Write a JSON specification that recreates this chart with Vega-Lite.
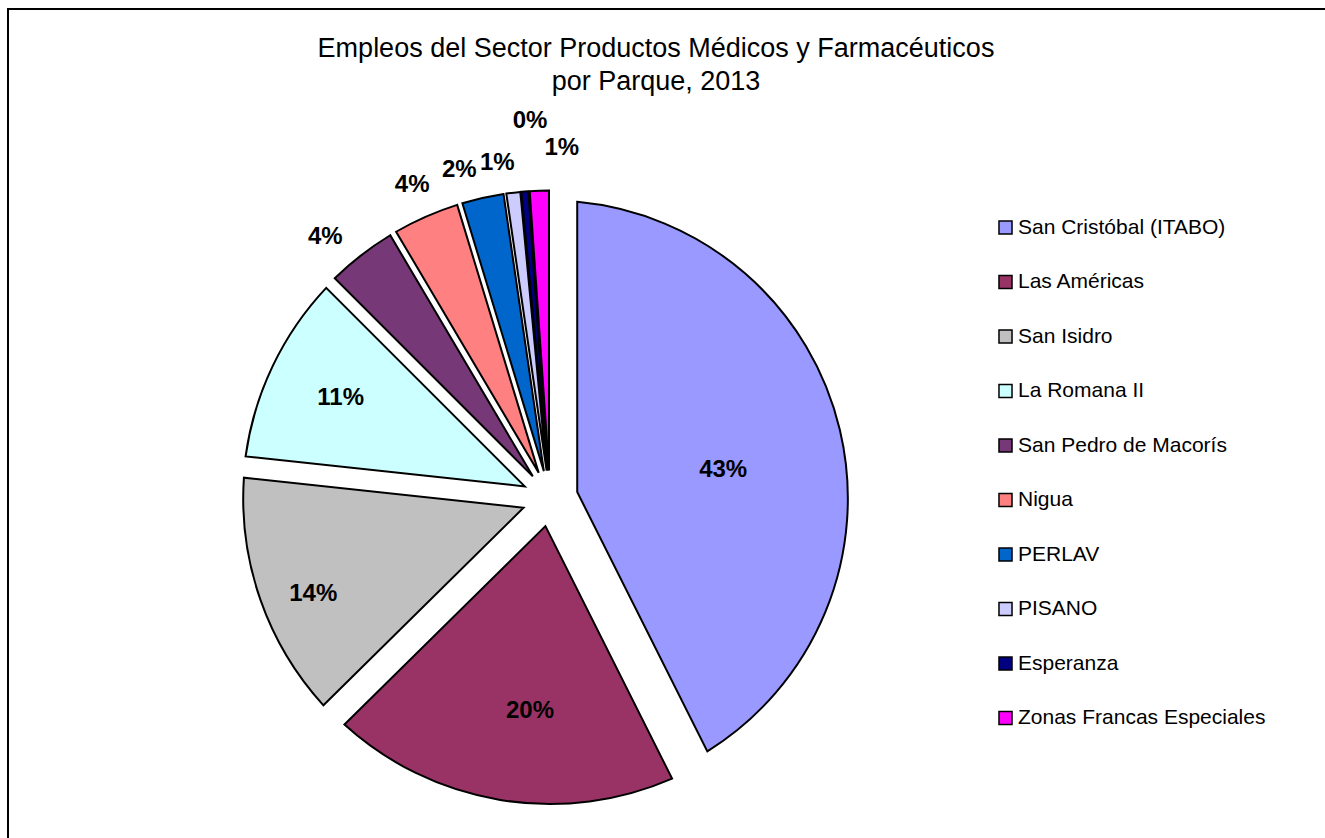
{
  "$schema": "https://vega.github.io/schema/vega-lite/v6.json",
  "width": 1330,
  "height": 840,
  "autosize": {"type": "none"},
  "padding": {"left": 8, "top": 9, "right": 0, "bottom": 0},
  "background": "white",
  "config": {"view": {"stroke": null}, "font": "Liberation Sans"},
  "title": {
    "text": ["Empleos del Sector Productos Médicos y Farmacéuticos", "por Parque, 2013"],
    "fontSize": 27,
    "fontWeight": "normal",
    "font": "Liberation Sans",
    "color": "black",
    "anchor": "middle",
    "offset": -88,
    "dx": -17,
    "lineHeight": 33
  },
  "data": {
    "values": [
      {"i": 1, "park": "San Cristóbal (ITABO)", "share": 0.426},
      {"i": 2, "park": "Las Américas", "share": 0.200},
      {"i": 3, "park": "San Isidro", "share": 0.141},
      {"i": 4, "park": "La Romana II", "share": 0.108},
      {"i": 5, "park": "San Pedro de Macorís", "share": 0.040},
      {"i": 6, "park": "Nigua", "share": 0.038},
      {"i": 7, "park": "PERLAV", "share": 0.024},
      {"i": 8, "park": "PISANO", "share": 0.008},
      {"i": 9, "park": "Esperanza", "share": 0.004},
      {"i": 10, "park": "Zonas Francas Especiales", "share": 0.011}
    ]
  },
  "layer": [
    {
      "mark": {"type": "rect", "fill": null, "stroke": "black", "strokeWidth": 2},
      "encoding": {}
    },
    {
      "mark": {
        "type": "arc",
        "x": {"expr": "width*0.4075"},
        "y": {"expr": "height*0.5827"},
        "radius": {"expr": "0.5*(308+sqrt(79184+15680*cos(datum.share*PI)))"},
        "radius2": 28,
        "padAngle": {"expr": "2*asin(28*sin(datum.share*PI)/sqrt(784+pow(0.5*(308+sqrt(79184+15680*cos(datum.share*PI))),2)))"},
        "stroke": "black",
        "strokeWidth": 2
      },
      "encoding": {
        "theta": {"field": "share", "type": "quantitative", "stack": true},
        "order": {"field": "i", "type": "quantitative"},
        "color": {
          "field": "park",
          "type": "nominal",
          "sort": null,
          "scale": {
            "domain": ["San Cristóbal (ITABO)", "Las Américas", "San Isidro", "La Romana II", "San Pedro de Macorís", "Nigua", "PERLAV", "PISANO", "Esperanza", "Zonas Francas Especiales"],
            "range": ["#9999FF", "#993366", "#C0C0C0", "#CCFFFF", "#763876", "#FF8080", "#0066CC", "#CCCCFF", "#000080", "#FF00FF"]
          },
          "legend": {
            "title": null,
            "orient": "none",
            "legendX": 987,
            "legendY": 208,
            "padding": 0,
            "symbolType": "square",
            "symbolSize": 170,
            "symbolStrokeColor": "black",
            "symbolStrokeWidth": 1.5,
            "labelFontSize": 21,
            "labelFont": "Liberation Sans",
            "labelColor": "black",
            "labelOffset": 2,
            "labelLimit": 400,
            "rowPadding": 32.5
          }
        }
      }
    },
    {
      "mark": {
        "type": "text",
        "x": {"expr": "width*0.4075"},
        "y": {"expr": "height*0.5827"},
        "radius": {"expr": "datum.share > 0.3 ? 178 : datum.share > 0.15 ? 215 : datum.share > 0.12 ? 255 : datum.share > 0.1 ? 232 : datum.share < 0.005 ? 379 : datum.park === 'Zonas Francas Especiales' ? 351 : 342"},
        "dx": {"expr": "datum.park === 'Zonas Francas Especiales' ? 24 : datum.park === 'Esperanza' ? 11 : datum.park === 'PISANO' ? -12 : datum.park === 'Las Américas' ? 15 : datum.park === 'San Isidro' ? 4 : datum.park === 'San Pedro de Macorís' ? -15 : datum.park === 'PERLAV' ? -16 : 0"},
        "dy": {"expr": "datum.park === 'San Cristóbal (ITABO)' ? 13 : datum.park === 'San Isidro' ? 11 : datum.park === 'San Pedro de Macorís' ? 9 : datum.park === 'PERLAV' ? 5 : datum.park === 'PISANO' ? 4 : 0"},
        "fontSize": 24,
        "fontWeight": "bold",
        "font": "Liberation Sans",
        "color": "black",
        "align": "center",
        "baseline": "middle"
      },
      "encoding": {
        "theta": {"field": "share", "type": "quantitative", "stack": true},
        "order": {"field": "i", "type": "quantitative"},
        "text": {"field": "share", "type": "quantitative", "format": ".0%"}
      }
    }
  ]
}
